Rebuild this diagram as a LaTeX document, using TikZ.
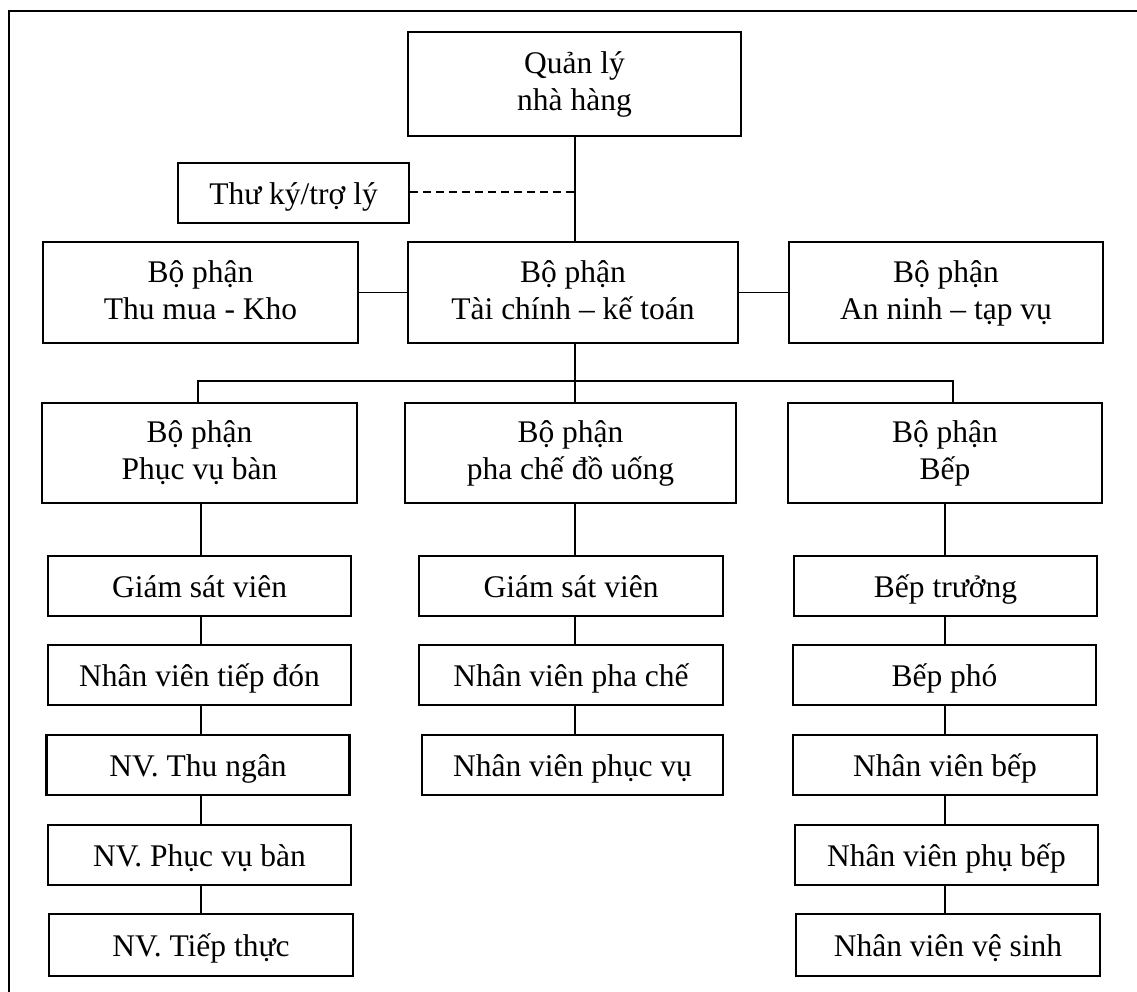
\documentclass[tikz,border=0pt]{standalone}
\usepackage{fontspec}
\setmainfont{Liberation Serif}
\newcommand{\topl}[1]{\rule{0pt}{20pt}\smash{#1}}
\newcommand{\botl}[1]{\rule[-4pt]{0pt}{4pt}\smash{#1}}
\newcommand{\onel}[1]{\rule[-8pt]{0pt}{38pt}\smash{#1}}
\begin{document}
\begin{tikzpicture}[x=1pt,y=-1pt,
  box/.style={draw,line width=2.7pt,inner sep=0pt,align=center,
    font=\fontsize{31.5}{37}\selectfont},
  conn/.style={line width=1.9pt},
  dashconn/.style={line width=1.9pt,dash pattern=on 8pt off 5pt}]
\useasboundingbox (0,0) rectangle (1137,991);
\clip (0,0) rectangle (1137,991);
% frame
\draw[line width=2.8pt] (9,1000) -- (9,11) -- (1150,11);
% top levels
\node[box,minimum width=333pt,minimum height=104pt] (ql) at (574.5,84) {\topl{Quản lý}\\\botl{nhà hàng}};
\node[box,minimum width=231pt,minimum height=60pt] (tk) at (293.5,193) {\onel{Thư ký/trợ lý}};
\node[box,minimum width=315pt,minimum height=101pt] (tm) at (200.5,292.5) {\topl{Bộ phận}\\\botl{Thu mua - Kho}};
\node[box,minimum width=330pt,minimum height=101pt] (tc) at (573,292.5) {\topl{Bộ phận}\\\botl{Tài chính – kế toán}};
\node[box,minimum width=314pt,minimum height=101pt] (an) at (946,292.5) {\topl{Bộ phận}\\\botl{An ninh – tạp vụ}};
% departments
\node[box,minimum width=315pt,minimum height=100pt] (pv) at (199.5,453) {\topl{Bộ phận}\\\botl{Phục vụ bàn}};
\node[box,minimum width=331pt,minimum height=100pt] (pc) at (570.5,453) {\topl{Bộ phận}\\\botl{pha chế đồ uống}};
\node[box,minimum width=314pt,minimum height=100pt] (bp) at (945,453) {\topl{Bộ phận}\\\botl{Bếp}};
% left stack
\node[box,minimum width=303pt,minimum height=60pt] (l1) at (199.5,586) {\onel{Giám sát viên}};
\node[box,minimum width=303pt,minimum height=60pt] (l2) at (199.5,675) {\onel{Nhân viên tiếp đón}};
\node[box,minimum width=303pt,minimum height=60pt] (l3) at (198,765) {\onel{NV. Thu ngân}};
\node[box,minimum width=303pt,minimum height=60pt] (l4) at (199.5,855) {\onel{NV. Phục vụ bàn}};
\node[box,minimum width=304pt,minimum height=62pt] (l5) at (201,945) {\onel{NV. Tiếp thực}};
% center stack
\node[box,minimum width=304pt,minimum height=60pt] (c1) at (571,586) {\onel{Giám sát viên}};
\node[box,minimum width=304pt,minimum height=60pt] (c2) at (571,675) {\onel{Nhân viên pha chế}};
\node[box,minimum width=301pt,minimum height=60pt] (c3) at (572.5,765) {\onel{Nhân viên phục vụ}};
% right stack
\node[box,minimum width=303pt,minimum height=60pt] (r1) at (945.5,586) {\onel{Bếp trưởng}};
\node[box,minimum width=303pt,minimum height=60pt] (r2) at (944.5,675) {\onel{Bếp phó}};
\node[box,minimum width=304pt,minimum height=60pt] (r3) at (945,765) {\onel{Nhân viên bếp}};
\node[box,minimum width=303pt,minimum height=60pt] (r4) at (946.5,855) {\onel{Nhân viên phụ bếp}};
\node[box,minimum width=304pt,minimum height=62pt] (r5) at (948,945) {\onel{Nhân viên vệ sinh}};
% connectors
\coordinate (spine) at (575,192);
\draw[conn] (ql.south -| spine) -- (tc.north -| spine);
\draw[dashconn] (tk.east |- spine) -- (spine);
\draw[conn] (tm.east) -- (tc.west);
\draw[conn] (tc.east) -- (an.west);
\coordinate (busM) at (575,381);
\coordinate (busL) at (198,381);
\coordinate (busR) at (953,381);
\draw[conn] (tc.south -| busM) -- (busM);
\draw[conn] (busL |- pv.north) -- (busL) -- (busR) -- (busR |- bp.north);
\draw[conn] (busM) -- (busM |- pc.north);
% stacks
\coordinate (sl) at (201,0);
\coordinate (sc) at (575,0);
\coordinate (sr) at (945,0);
\draw[conn] (pv.south -| sl) -- (l1.north -| sl);
\draw[conn] (l1.south -| sl) -- (l2.north -| sl);
\draw[conn] (l2.south -| sl) -- (l3.north -| sl);
\draw[conn] (l3.south -| sl) -- (l4.north -| sl);
\draw[conn] (l4.south -| sl) -- (l5.north -| sl);
\draw[conn] (pc.south -| sc) -- (c1.north -| sc);
\draw[conn] (c1.south -| sc) -- (c2.north -| sc);
\draw[conn] (c2.south -| sc) -- (c3.north -| sc);
\draw[conn] (bp.south -| sr) -- (r1.north -| sr);
\draw[conn] (r1.south -| sr) -- (r2.north -| sr);
\draw[conn] (r2.south -| sr) -- (r3.north -| sr);
\draw[conn] (r3.south -| sr) -- (r4.north -| sr);
\draw[conn] (r4.south -| sr) -- (r5.north -| sr);
\end{tikzpicture}
\end{document}
